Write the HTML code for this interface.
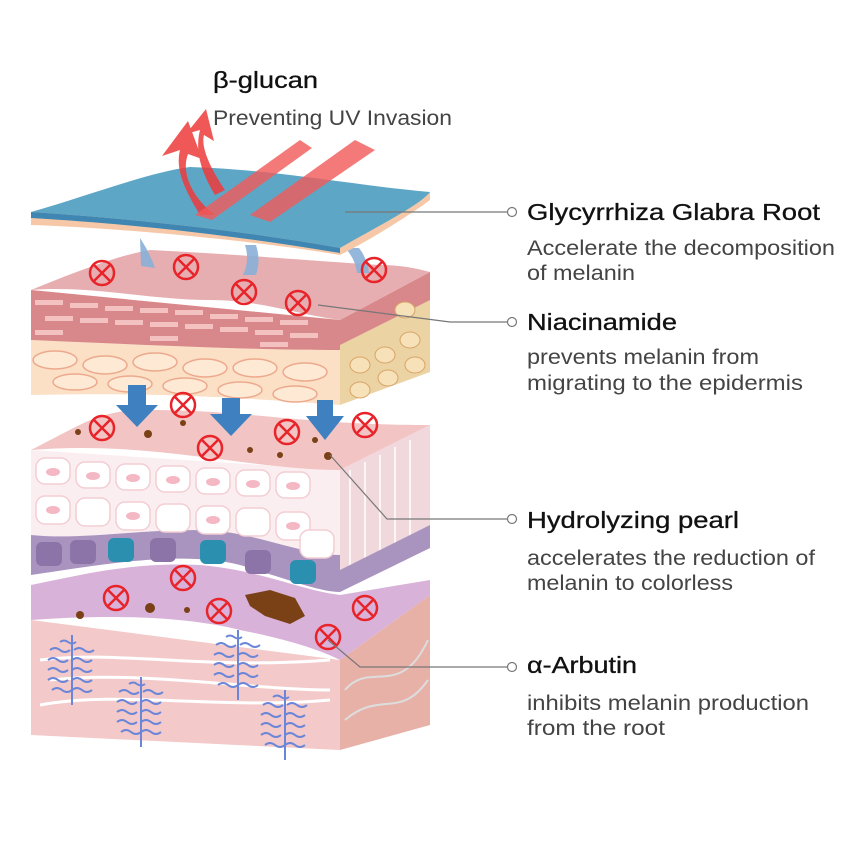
<!DOCTYPE html>
<html><head><meta charset="utf-8"><style>
html,body{margin:0;padding:0;background:#fff;}
svg{display:block;}
text{font-family:"Liberation Sans",sans-serif;}
.h{font-size:23px;fill:#111;stroke:#111;stroke-width:0.3;}
.s{font-size:21px;fill:#444;}
</style></head><body>
<svg width="850" height="850" viewBox="0 0 850 850" xmlns="http://www.w3.org/2000/svg">
<defs>
<g id="x"><circle r="12" fill="none" stroke="#e8242a" stroke-width="2.5"/><path d="M-8,-8L8,8M8,-8L-8,8" stroke="#e8242a" stroke-width="2.5"/></g>
<g id="tree" stroke="#6b86d8" stroke-width="2" fill="none">
<path d="M0,-35V35"/>
<path d="M-22,-20q5,-4 10,0t10,0M2,-20q5,-4 10,0t10,0M-24,-10q5,-4 10,0t10,0M0,-10q5,-4 10,0t10,0M-24,0q5,-4 10,0t10,0M0,0q5,-4 10,0t10,0M-24,10q5,-4 10,0t10,0M0,10q5,-4 10,0t10,0M-20,20q5,-4 10,0t10,0M0,20q5,-4 10,0t10,0M-12,-28q4,-3 8,0t8,0"/>
</g>
</defs>

<polygon points="340,660 430,595 430,725 340,750" fill="#e8b1a8"/>
<path d="M31,620 L31,735 L340,750 L340,660 Z" fill="#f3c9c9"/>
<path d="M31,620 C100,615 180,615 240,630 C290,640 320,650 340,660 L430,595 L430,580 L340,595 C300,590 260,570 200,565 C130,562 80,575 31,585 Z" fill="#d8b2d8"/>
<path d="M40,660 C120,650 200,670 330,660 M40,705 C120,690 220,710 330,700 M50,680 C140,670 250,690 330,690" stroke="#fff" stroke-width="3" fill="none"/>
<path d="M345,690 C370,660 400,700 428,640 M345,720 C380,690 400,720 428,680" stroke="#ddd" stroke-width="2" fill="none"/>
<use href="#tree" x="72" y="670"/><use href="#tree" x="141" y="712"/><use href="#tree" x="238" y="665"/><use href="#tree" x="285" y="725"/>
<path d="M245,595 l25,-5 l25,8 l10,18 l-15,8 l-25,-8 l-15,-10 z" fill="#7a4016"/>
<circle cx="80" cy="615" r="4" fill="#7a4016"/><circle cx="150" cy="608" r="5" fill="#7a4016"/><circle cx="187" cy="610" r="3" fill="#7a4016"/>
<use href="#x" x="116" y="598"/><use href="#x" x="219" y="611"/><use href="#x" x="365" y="608"/><use href="#x" x="328" y="637"/><use href="#x" x="183" y="578"/>

<polygon points="340,470 430,425 430,545 340,590" fill="#f0d8dc"/>
<path d="M31,450 L31,575 C120,560 200,545 260,560 C300,575 320,590 340,590 L340,470 Z" fill="#fbeef0"/>
<path d="M31,535 L31,575 C100,565 180,550 240,565 C290,580 320,592 340,592 L340,555 C300,555 250,530 200,530 C130,530 80,540 31,535Z" fill="#a994c0"/>
<g fill="#fff" stroke="#f3cdd4" stroke-width="1.5">
<rect x="36" y="458" width="34" height="26" rx="9"/><rect x="76" y="462" width="34" height="26" rx="9"/><rect x="116" y="464" width="34" height="26" rx="9"/><rect x="156" y="466" width="34" height="26" rx="9"/><rect x="196" y="468" width="34" height="26" rx="9"/><rect x="236" y="470" width="34" height="26" rx="9"/><rect x="276" y="472" width="34" height="26" rx="9"/>
<rect x="36" y="496" width="34" height="28" rx="9"/><rect x="76" y="498" width="34" height="28" rx="9"/><rect x="116" y="502" width="34" height="28" rx="9"/><rect x="156" y="504" width="34" height="28" rx="9"/><rect x="196" y="506" width="34" height="28" rx="9"/><rect x="236" y="508" width="34" height="28" rx="9"/><rect x="276" y="512" width="34" height="28" rx="9"/><rect x="300" y="530" width="34" height="28" rx="9"/>
</g>
<g fill="#f4b8c4"><ellipse cx="53" cy="472" rx="7" ry="4"/><ellipse cx="93" cy="476" rx="7" ry="4"/><ellipse cx="133" cy="478" rx="7" ry="4"/><ellipse cx="173" cy="480" rx="7" ry="4"/><ellipse cx="213" cy="482" rx="7" ry="4"/><ellipse cx="253" cy="484" rx="7" ry="4"/><ellipse cx="293" cy="486" rx="7" ry="4"/><ellipse cx="53" cy="510" rx="7" ry="4"/><ellipse cx="133" cy="516" rx="7" ry="4"/><ellipse cx="213" cy="520" rx="7" ry="4"/><ellipse cx="293" cy="526" rx="7" ry="4"/></g>
<g fill="#2b8fb0"><rect x="36" y="542" width="26" height="24" rx="6" fill="#8d74a8"/><rect x="70" y="540" width="26" height="24" rx="6" fill="#8d74a8"/><rect x="108" y="538" width="26" height="24" rx="6"/><rect x="150" y="538" width="26" height="24" rx="6" fill="#8d74a8"/><rect x="200" y="540" width="26" height="24" rx="6"/><rect x="245" y="550" width="26" height="24" rx="6" fill="#8d74a8"/><rect x="290" y="560" width="26" height="24" rx="6"/></g>
<g stroke="#fff" stroke-width="1.5" fill="none"><path d="M350,470 V580 M365,462 V575 M380,455 V565 M395,447 V560 M410,440 V550"/></g>
<polygon points="340,570 430,525 430,548 340,592" fill="#a994c0"/>
<path d="M31,450 C90,420 100,410 150,410 C250,410 300,425 430,425 L340,470 C250,470 150,440 31,450 Z" fill="#f2c4c4"/>
<g fill="#7a4016"><circle cx="78" cy="432" r="3"/><circle cx="148" cy="434" r="4"/><circle cx="183" cy="423" r="3"/><circle cx="250" cy="450" r="3"/><circle cx="280" cy="455" r="3"/><circle cx="315" cy="440" r="3"/><circle cx="328" cy="456" r="4"/></g>

<polygon points="340,320 430,272 430,372 340,405" fill="#ecd3a3"/>
<path d="M31,290 L31,395 C150,392 250,398 340,405 L340,320 Z" fill="#fbe0c6"/>
<path d="M31,290 L31,340 C150,345 250,350 340,350 L340,320 Z" fill="#d8878a"/>
<g fill="#f3c2c0"><rect x="35" y="300" width="28" height="5"/><rect x="70" y="303" width="28" height="5"/><rect x="105" y="306" width="28" height="5"/><rect x="140" y="308" width="28" height="5"/><rect x="175" y="310" width="28" height="5"/><rect x="210" y="314" width="28" height="5"/><rect x="245" y="317" width="28" height="5"/><rect x="280" y="320" width="28" height="5"/><rect x="45" y="316" width="28" height="5"/><rect x="80" y="318" width="28" height="5"/><rect x="115" y="320" width="28" height="5"/><rect x="150" y="322" width="28" height="5"/><rect x="185" y="324" width="28" height="5"/><rect x="220" y="327" width="28" height="5"/><rect x="255" y="330" width="28" height="5"/><rect x="290" y="333" width="28" height="5"/><rect x="35" y="330" width="28" height="5"/><rect x="150" y="336" width="28" height="5"/><rect x="260" y="342" width="28" height="5"/></g>
<g fill="#fde9d4" stroke="#eda98d" stroke-width="1.5"><ellipse cx="55" cy="360" rx="22" ry="9"/><ellipse cx="105" cy="365" rx="22" ry="9"/><ellipse cx="155" cy="362" rx="22" ry="9"/><ellipse cx="205" cy="368" rx="22" ry="9"/><ellipse cx="255" cy="368" rx="22" ry="9"/><ellipse cx="305" cy="372" rx="22" ry="9"/><ellipse cx="75" cy="382" rx="22" ry="8"/><ellipse cx="130" cy="384" rx="22" ry="8"/><ellipse cx="185" cy="386" rx="22" ry="8"/><ellipse cx="240" cy="390" rx="22" ry="8"/><ellipse cx="295" cy="394" rx="22" ry="8"/></g>
<polygon points="340,320 430,272 430,300 340,345" fill="#d8878a"/>
<g fill="#f6e1b8" stroke="#d9a468" stroke-width="1"><ellipse cx="360" cy="365" rx="10" ry="8"/><ellipse cx="385" cy="355" rx="10" ry="8"/><ellipse cx="410" cy="340" rx="10" ry="8"/><ellipse cx="360" cy="390" rx="10" ry="8"/><ellipse cx="388" cy="378" rx="10" ry="8"/><ellipse cx="415" cy="365" rx="10" ry="8"/><ellipse cx="405" cy="310" rx="10" ry="8"/></g>
<path d="M31,290 C80,270 120,255 150,250 C250,255 300,260 380,265 C400,265 415,268 430,272 L340,320 C300,315 260,300 210,300 C150,300 90,285 31,290 Z" fill="#e6aeb0"/>
<g fill="#3f80c0"><path d="M128,385 h18 v20 h12 l-21,22 l-21,-22 h12z"/><path d="M222,398 h18 v16 h12 l-21,22 l-21,-22 h12z"/><path d="M317,400 h16 v16 h11 l-19,24 l-19,-24 h11z"/></g>
<use href="#x" x="102" y="428"/><use href="#x" x="183" y="405"/><use href="#x" x="210" y="448"/><use href="#x" x="287" y="432"/><use href="#x" x="365" y="425"/>

<g fill="#8ab0d8" opacity="0.9"><path d="M140,238 q10,15 15,30 l-14,-2 z"/><path d="M245,245 q5,15 -2,30 l13,0 q5,-15 0,-30z"/><path d="M345,248 q10,10 12,25 l12,0 q-2,-15 -10,-25z"/></g>
<use href="#x" x="102" y="273"/><use href="#x" x="186" y="267"/><use href="#x" x="244" y="292"/><use href="#x" x="298" y="303"/><use href="#x" x="374" y="270"/>
<path d="M31,212 L31,225 C120,228 250,240 340,255 C370,240 410,215 430,200 L430,192 Z" fill="#f6c8a8"/>
<path d="M31,212 C90,195 150,172 190,167 C280,170 350,185 430,192 C420,205 380,225 340,248 C250,232 150,220 31,212 Z" fill="#5ea6c6"/>
<path d="M31,212 C150,220 250,232 340,248 L340,253 C250,238 150,225 31,218 Z" fill="#3f86b2"/>
<g fill="#ee3b3b" opacity="0.85"><path d="M200,215 C185,190 175,170 180,150 l-18,6 l26,-35 l14,38 l-14,-5 C180,175 195,200 215,215z"/><path d="M215,195 C200,170 195,150 200,130 l-14,4 l20,-25 l8,32 l-10,-6 C200,150 215,175 225,190z"/></g>
<g fill="#f25a5a" opacity="0.8"><polygon points="195,215 300,140 312,148 212,220"/><polygon points="250,215 355,140 375,150 270,222"/></g>

<g stroke="#777" stroke-width="1.2" fill="none">
<path d="M345,212 H507"/>
<path d="M318,305 L450,322 H507"/>
<path d="M330,455 L387,519 H507"/>
<path d="M328,640 L360,667 H507"/>
</g>
<g fill="#fff" stroke="#777" stroke-width="1.2"><circle cx="512" cy="212" r="4.5"/><circle cx="512" cy="322" r="4.5"/><circle cx="512" cy="519" r="4.5"/><circle cx="512" cy="667" r="4.5"/></g>

<text class="h" x="213" y="88" textLength="105" lengthAdjust="spacingAndGlyphs">β-glucan</text>
<text class="s" x="213" y="125" textLength="239" lengthAdjust="spacingAndGlyphs">Preventing UV Invasion</text>
<text class="h" x="527" y="220" textLength="293" lengthAdjust="spacingAndGlyphs">Glycyrrhiza Glabra Root</text>
<text class="s" x="527" y="255" textLength="308" lengthAdjust="spacingAndGlyphs">Accelerate the decomposition</text>
<text class="s" x="527" y="280" textLength="108" lengthAdjust="spacingAndGlyphs">of melanin</text>
<text class="h" x="527" y="330" textLength="150" lengthAdjust="spacingAndGlyphs">Niacinamide</text>
<text class="s" x="527" y="364" textLength="232" lengthAdjust="spacingAndGlyphs">prevents melanin from</text>
<text class="s" x="527" y="390" textLength="276" lengthAdjust="spacingAndGlyphs">migrating to the epidermis</text>
<text class="h" x="527" y="528" textLength="212" lengthAdjust="spacingAndGlyphs">Hydrolyzing pearl</text>
<text class="s" x="527" y="565" textLength="288" lengthAdjust="spacingAndGlyphs">accelerates the reduction of</text>
<text class="s" x="527" y="590" textLength="206" lengthAdjust="spacingAndGlyphs">melanin to colorless</text>
<text class="h" x="527" y="673" textLength="110" lengthAdjust="spacingAndGlyphs">α-Arbutin</text>
<text class="s" x="527" y="710" textLength="282" lengthAdjust="spacingAndGlyphs">inhibits melanin production</text>
<text class="s" x="527" y="735" textLength="138" lengthAdjust="spacingAndGlyphs">from the root</text>
</svg>
</body></html>
